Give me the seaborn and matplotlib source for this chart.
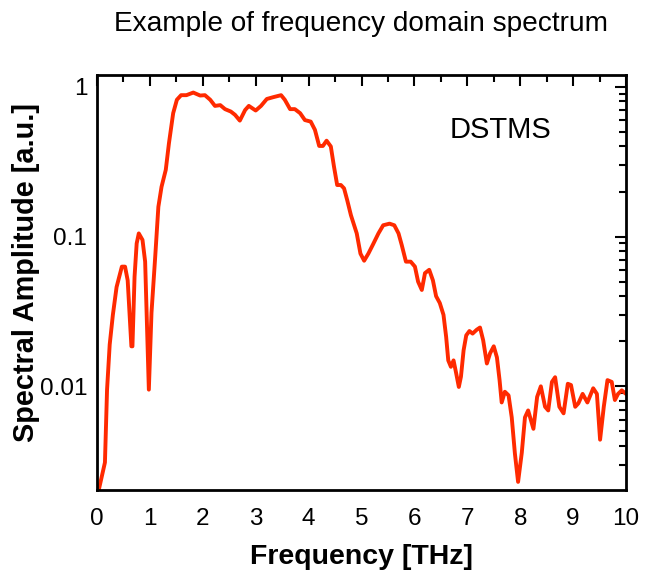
import numpy as np
import pandas as pd
import seaborn as sns
import matplotlib
matplotlib.use("Agg")
import matplotlib.pyplot as plt
from matplotlib.ticker import FixedLocator, LogLocator, NullFormatter, FixedFormatter

freq_thz = [0.00, 0.15, 0.19, 0.24, 0.30, 0.37, 0.47, 0.53, 0.58, 0.65, 0.67, 0.71, 0.75, 0.79,
            0.86, 0.91, 0.98, 1.03, 1.10, 1.16, 1.22, 1.30, 1.36, 1.44, 1.51, 1.59, 1.69, 1.82,
            1.95, 2.04, 2.14, 2.23, 2.33, 2.42, 2.53, 2.61, 2.70, 2.80, 2.87, 3.00, 3.10, 3.21,
            3.33, 3.48, 3.55, 3.65, 3.74, 3.84, 3.93, 4.04, 4.12, 4.20, 4.27, 4.34, 4.42, 4.48,
            4.54, 4.61, 4.67, 4.73, 4.80, 4.91, 4.98, 5.05, 5.13, 5.22, 5.32, 5.41, 5.53, 5.62,
            5.70, 5.76, 5.84, 5.93, 6.01, 6.07, 6.14, 6.20, 6.28, 6.35, 6.41, 6.48, 6.55, 6.60,
            6.64, 6.69, 6.74, 6.79, 6.84, 6.88, 6.93, 6.98, 7.04, 7.10, 7.18, 7.24, 7.30, 7.37,
            7.43, 7.50, 7.56, 7.61, 7.65, 7.71, 7.78, 7.84, 7.90, 7.96, 8.03, 8.09, 8.15, 8.25,
            8.32, 8.39, 8.47, 8.53, 8.60, 8.66, 8.74, 8.82, 8.90, 8.96, 9.04, 9.10, 9.18, 9.27,
            9.38, 9.45, 9.51, 9.58, 9.65, 9.73, 9.79, 9.85, 9.92, 10.00]
amplitude = [0.0018, 0.0031, 0.0095, 0.019, 0.030, 0.046, 0.063, 0.063, 0.051, 0.0185, 0.0185, 0.054, 0.090, 0.105,
             0.095, 0.068, 0.0095, 0.031, 0.073, 0.158, 0.215, 0.279, 0.42, 0.667, 0.82, 0.88, 0.88, 0.916,
             0.875, 0.88, 0.82, 0.746, 0.755, 0.71, 0.684, 0.65, 0.595, 0.70, 0.746, 0.695, 0.746, 0.83,
             0.853, 0.88, 0.82, 0.71, 0.71, 0.667, 0.60, 0.586, 0.516, 0.403, 0.403, 0.437, 0.40, 0.293,
             0.221, 0.221, 0.21, 0.175, 0.139, 0.105, 0.077, 0.069, 0.077, 0.089, 0.105, 0.119, 0.122, 0.119,
             0.105, 0.088, 0.068, 0.068, 0.063, 0.050, 0.044, 0.057, 0.060, 0.051, 0.040, 0.036, 0.030, 0.0214,
             0.0149, 0.0135, 0.0149, 0.0122, 0.0099, 0.0116, 0.0174, 0.0219, 0.0234, 0.0225, 0.0239, 0.0247, 0.0203, 0.0142,
             0.0166, 0.0185, 0.0156, 0.011, 0.0078, 0.0092, 0.0087, 0.0062, 0.00355, 0.0023, 0.0036, 0.0062, 0.0069, 0.0052,
             0.0085, 0.0100, 0.0073, 0.0069, 0.0107, 0.0115, 0.0073, 0.0066, 0.0104, 0.0102, 0.0073, 0.0077, 0.0089, 0.0078,
             0.0097, 0.0089, 0.0044, 0.0073, 0.0110, 0.0107, 0.0081, 0.0089, 0.0094, 0.0089]

x_ticks = [0, 1, 2, 3, 4, 5, 6, 7, 8, 9, 10]
y_ticks = [0.01, 0.1, 1]
y_tick_labels = ["0.01", "0.1", "1"]

df = pd.DataFrame({"Frequency": freq_thz, "Amplitude": amplitude})

sns.set_theme(style="white")
plt.rcParams['font.family'] = ['Liberation Sans', 'DejaVu Sans']

fig = plt.figure(figsize=(6.46, 5.78), dpi=100)
ax = fig.add_axes([97/646, 1-490/578, (626-97)/646, (490-75)/578])

sns.lineplot(data=df, x="Frequency", y="Amplitude", ax=ax, color="#ff2a00",
             linewidth=2.8, estimator=None, sort=False)

ax.set_yscale("log")
ax.set_xlim(0, 10)
ax.set_ylim(0.00203, 1.2)

ax.xaxis.set_major_locator(FixedLocator(x_ticks))
ax.xaxis.set_minor_locator(FixedLocator([v + 0.5 for v in x_ticks[:-1]]))
ax.yaxis.set_major_locator(FixedLocator(y_ticks))
ax.yaxis.set_major_formatter(FixedFormatter(y_tick_labels))
ax.yaxis.set_minor_locator(LogLocator(base=10, subs=np.arange(2, 10)))
ax.yaxis.set_minor_formatter(NullFormatter())

ax.tick_params(which="both", direction="in", top=True, right=True, color="black",
               width=1.5, labelsize=17.5, labelcolor="black")
ax.tick_params(which="major", length=8, pad=7)
ax.tick_params(which="minor", length=5)
ax.tick_params(axis="x", which="major", pad=13)

for s in ax.spines.values():
    s.set_color("black")
    s.set_linewidth(2)

ax.set_xlabel("Frequency [THz]", fontsize=20.5, fontweight="bold", labelpad=10, color="black")
ax.set_ylabel("Spectral Amplitude [a.u.]", fontsize=20.8, fontweight="bold", color="black")
ax.yaxis.set_label_coords(-0.108, 0.525)
ax.set_title("Example of frequency domain spectrum", fontsize=20.2, pad=32, color="black")

ax.text(6.67, 0.515, "DSTMS", fontsize=21, va="center", ha="left", color="black")

fig.savefig("out.png", dpi=100)
